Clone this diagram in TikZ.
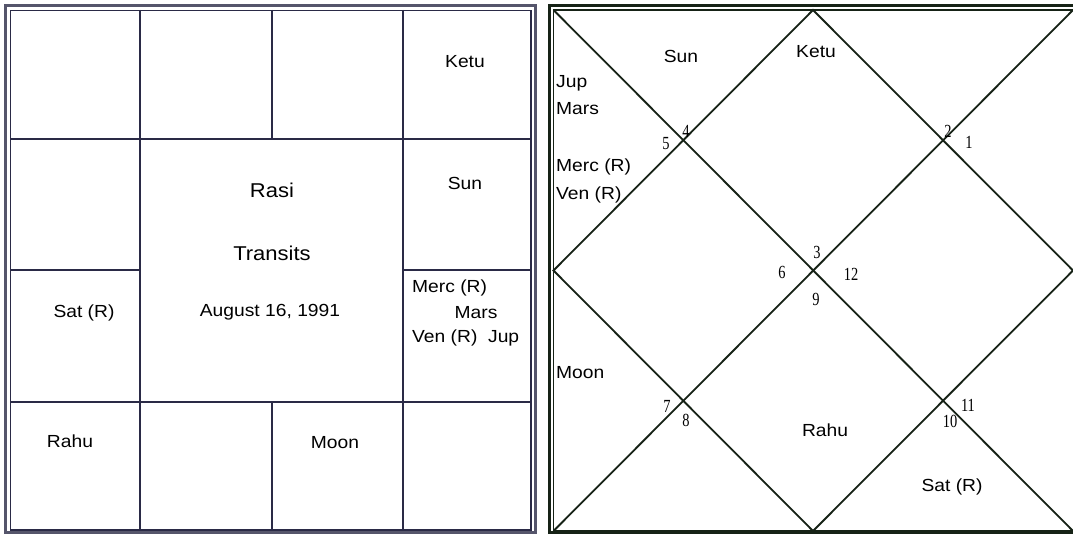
\documentclass[tikz,border=0pt]{standalone}
\usepackage{fontspec}
\setmainfont{Liberation Sans}
\newfontfamily\widefont[FakeStretch=1.1]{Liberation Sans}
\newfontfamily\numfont[FakeStretch=0.78]{Liberation Serif}
\definecolor{navy}{RGB}{42,42,70}
\definecolor{dkgreen}{RGB}{22,34,22}
\tikzset{
  lbl/.style={inner sep=0pt, font=\widefont\fontsize{17.5}{20}\selectfont, text=black},
  big/.style={inner sep=0pt, font=\widefont\fontsize{20}{24}\selectfont, text=black},
  num/.style={inner sep=0pt, font=\numfont\fontsize{18.5}{20}\selectfont, text=black},
  sgrid/.style={draw=navy, line width=2.6pt},
  ngrid/.style={draw=dkgreen, line width=1.8pt},
}
\begin{document}
\begin{tikzpicture}[x=1pt, y=-1pt]
\useasboundingbox (0,0) rectangle (1073,534);
\fill[white] (0,0) rectangle (1073,534);
% ---------- left chart (South Indian) ----------
\draw[navy!80, line width=3.5pt] (5.5,5.5) rectangle (535.5,533);
\draw[navy, line width=1.4pt] (10.5,10.5) rectangle (531,530);
\coordinate (L1t) at (140,10); \coordinate (L1b) at (140,530);
\coordinate (L3t) at (403,10); \coordinate (L3b) at (403,530);
\coordinate (L2t) at (272,10); \coordinate (L2m1) at (272,139);
\coordinate (L2m2) at (272,402); \coordinate (L2b) at (272,530);
\coordinate (H1l) at (10,139); \coordinate (H1r) at (531,139);
\coordinate (H3l) at (10,402); \coordinate (H3r) at (531,402);
\coordinate (H2l) at (10,270); \coordinate (H2m1) at (140,270);
\coordinate (H2m2) at (403,270); \coordinate (H2r) at (531,270);
\draw[sgrid] (L1t) -- (L1b);
\draw[sgrid] (L3t) -- (L3b);
\draw[sgrid] (L2t) -- (L2m1);
\draw[sgrid] (L2m2) -- (L2b);
\draw[sgrid] (H1l) -- (H1r);
\draw[sgrid] (H3l) -- (H3r);
\draw[sgrid] (H2l) -- (H2m1);
\draw[sgrid] (H2m2) -- (H2r);
\node[lbl] (sketu) at (465,62) {Ketu};
\node[lbl] (ssun) at (465,183) {Sun};
\node[big] (rasi) at (272,190) {Rasi};
\node[big] (transits) at (272,253) {Transits};
\node[lbl] (date) at (270,312) {August 16, 1991};
\node[lbl, anchor=west] (smerc) at (412,288) {Merc (R)};
\node[lbl] (smars) at (476,313) {Mars};
\node[lbl, anchor=west] (sven) at (412,338) {Ven (R)\ \ Jup};
\node[lbl] (ssat) at (84,313) {Sat (R)};
\node[lbl] (srahu) at (70,441) {Rahu};
\node[lbl] (smoon) at (335,443) {Moon};
% ---------- right chart (North Indian) ----------
\draw[dkgreen, line width=3.5pt] (549.5,5.5) rectangle (1080,533);
\draw[dkgreen, line width=1.4pt] (553.5,10) rectangle (1078,531);
\coordinate (TL) at (553.5,10);
\coordinate (TR) at (1073,10);
\coordinate (BL) at (553.5,531);
\coordinate (BR) at (1073,531);
\coordinate (TM) at (813,10);
\coordinate (RM) at (1073,270.5);
\coordinate (BM) at (813,531);
\coordinate (LM) at (553.5,270.5);
\draw[ngrid] (TL) -- (BR);
\draw[ngrid] (BL) -- (TR);
\draw[ngrid] (TM) -- (RM) -- (BM) -- (LM) -- cycle;
\node[lbl] (nsun) at (681,56) {Sun};
\node[lbl] (nketu) at (816,52) {Ketu};
\node[lbl, anchor=west] (njup) at (556,83) {Jup};
\node[lbl, anchor=west] (nmars) at (556,109) {Mars};
\node[lbl, anchor=west] (nmerc) at (556,167) {Merc (R)};
\node[lbl, anchor=west] (nven) at (556,195) {Ven (R)};
\node[lbl, anchor=west] (nmoon) at (556,373) {Moon};
\node[lbl] (nrahu) at (825,430) {Rahu};
\node[lbl] (nsat) at (952,487) {Sat (R)};
\node[num] (n4) at (686,131) {4};
\node[num] (n5) at (666,144) {5};
\node[num] (n2) at (948,131) {2};
\node[num] (n1) at (969,142) {1};
\node[num] (n3) at (817,252) {3};
\node[num] (n6) at (782,272) {6};
\node[num] (n12) at (851,274) {12};
\node[num] (n9) at (816,299) {9};
\node[num] (n7) at (667,406) {7};
\node[num] (n8) at (686,420) {8};
\node[num] (n11) at (968,405) {11};
\node[num] (n10) at (950,421) {10};
\end{tikzpicture}
\end{document}
